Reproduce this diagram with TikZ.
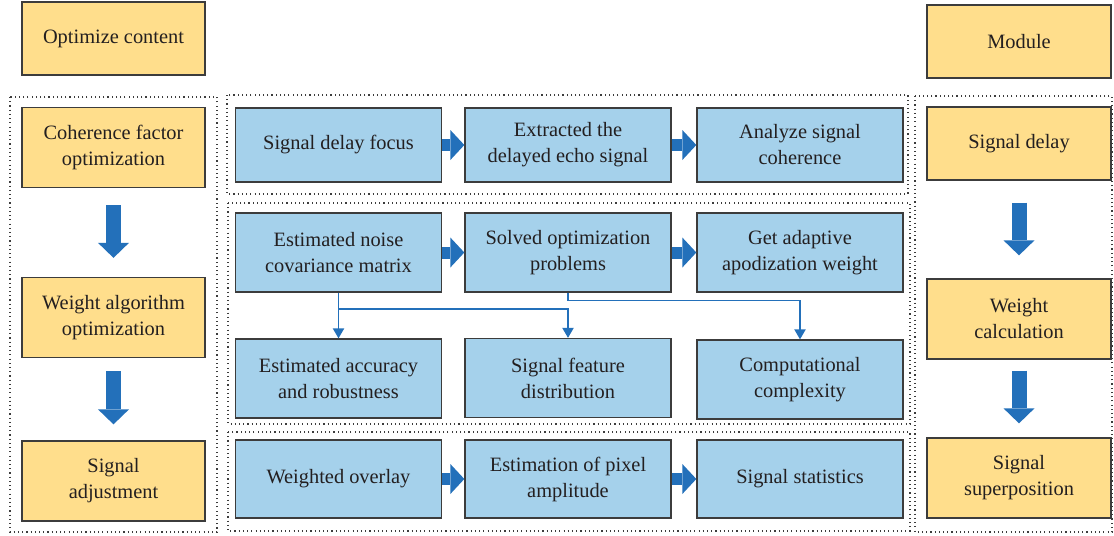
\documentclass[tikz,border=0pt]{standalone}
\usepackage{fontspec}
\setmainfont{Liberation Serif}
\usepackage{tikz}
\usetikzlibrary{arrows.meta,calc,positioning}
\definecolor{optyellow}{RGB}{255,222,140}
\definecolor{stepblue}{RGB}{165,209,235}
\definecolor{flowblue}{RGB}{35,112,186}
\definecolor{framegray}{RGB}{60,60,60}
\definecolor{textgray}{RGB}{35,31,32}
\tikzset{
  ybox/.style={draw=framegray, line width=0.9pt, fill=optyellow, align=center, inner sep=0pt,
    minimum width=4.575cm, minimum height=2cm, text=textgray, font=\fontsize{14.5}{18.5}\selectfont},
  bbox/.style={ybox, fill=stepblue, minimum width=5.15cm, minimum height=1.975cm},
  frame/.style={draw=framegray, line width=0.8pt, dash pattern=on 0.8pt off 2.2pt},
  bigdown/.style={draw=flowblue, line width=0.375cm, -{Triangle[width=0.775cm,length=0.375cm,line width=0pt]}},
  bigright/.style={draw=flowblue, line width=0.3cm, -{Triangle[width=0.75cm,length=0.35cm,line width=0pt]}},
  link/.style={draw=flowblue, line width=1.1pt, -{Triangle[width=0.28cm,length=0.25cm]}}
}
\begin{document}
\begin{tikzpicture}[x=0.025cm,y=-0.025cm]
\useasboundingbox (0,0) rectangle (1114,535);

\draw[frame] (10,97) rectangle (217,532);
\draw[frame] (227,95) rectangle (908,194);
\draw[frame] (228,203) rectangle (910,424);
\draw[frame] (228,432) rectangle (910,531);
\draw[frame] (915,96) rectangle (1112,532);

\node[ybox, minimum height=1.825cm] (optc) at (113.5,38.5) {Optimize content};
\node[ybox] (oc1) at (113.5,147.5) {Coherence factor\\optimization};
\node[ybox] (oc2) at (113.5,317.5) {Weight algorithm\\optimization};
\node[ybox] (oc3) at (113.5,481) {Signal\\adjustment};

\node[ybox, minimum width=4.6cm, minimum height=1.825cm] (module) at (1019,41.5) {Module};
\node[ybox, minimum width=4.6cm, minimum height=1.825cm] (md1) at (1019,143.5) {Signal delay};
\node[ybox, minimum width=4.6cm] (md2) at (1019,319) {Weight\\calculation};
\node[ybox, minimum width=4.6cm] (md3) at (1019,478) {Signal\\superposition};

\node[bbox, minimum height=1.85cm] (s1) at (338.5,145) {Signal delay focus};
\node[bbox, minimum height=1.85cm] (s2) at (568,145) {Extracted the\\delayed echo signal};
\node[bbox, minimum height=1.85cm] (s3) at (800,145) {Analyze signal\\coherence};
\node[bbox] (w1) at (338.5,252.5) {Estimated noise\\covariance matrix};
\node[bbox] (w2) at (568,252.5) {Solved optimization\\problems};
\node[bbox] (w3) at (800,252.5) {Get adaptive\\apodization weight};
\node[bbox] (e1) at (338.5,378.5) {Estimated accuracy\\and robustness};
\node[bbox] (e2) at (568,378) {Signal feature\\distribution};
\node[bbox] (e3) at (800,379.5) {Computational\\complexity};
\node[bbox, minimum height=1.95cm] (o1) at (338.5,479) {Weighted overlay};
\node[bbox, minimum height=1.95cm] (o2) at (568,479) {Estimation of pixel\\amplitude};
\node[bbox, minimum height=1.95cm] (o3) at (800,479) {Signal statistics};

\draw[bigdown, shorten <=0.425cm, shorten >=0.475cm] (oc1) -- (oc2);
\draw[bigdown, shorten <=0.325cm, shorten >=0.4cm] (oc2) -- (oc3);
\draw[bigdown, shorten <=0.55cm, shorten >=0.575cm] (md1) -- (md2);
\draw[bigdown, shorten <=0.275cm, shorten >=0.35cm] (md2) -- (md3);

\draw[bigright] (s1) -- (s2);
\draw[bigright] (s2) -- (s3);
\draw[bigright] (w1) -- (w2);
\draw[bigright] (w2) -- (w3);
\draw[bigright] (o1) -- (o2);
\draw[bigright] (o2) -- (o3);

\draw[link] (w1.south) -- (e1.north);
\draw[link] ($(w1.south)!0.36!(e1.north)$) -| (e2.north);
\draw[link] (w2.south) -- ++(0,8) -| (e3.north);
\end{tikzpicture}
\end{document}
